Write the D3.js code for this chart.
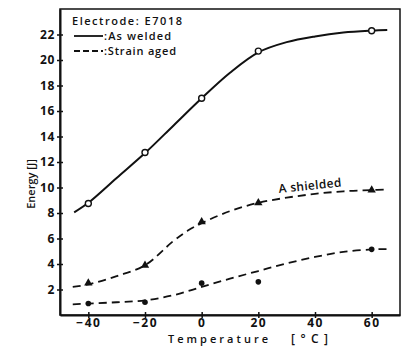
<!DOCTYPE html>
<html>
<head>
<meta charset="utf-8">
<script src="https://cdn.jsdelivr.net/npm/d3@7"></script>
<style>
  html, body { margin: 0; padding: 0; background: #fff; }
  svg { display: block; font-family: "Open Sans", "DejaVu Sans", sans-serif; }
</style>
</head>
<body>
<svg id="chart" width="411" height="347"></svg>
<script>
// Tick values
const xTicks = [-40, -20, 0, 20, 40, 60];
const yTicks = [2, 4, 6, 8, 10, 12, 14, 16, 18, 20, 22];

// Measured points (temperature °C, energy J)
const weldedPts = [[-40, 8.75], [-20, 12.75], [0, 17.0], [20, 20.7], [60, 22.3]];
const shieldedPts = [[-40, 2.5], [-20, 3.9], [0, 7.3], [20, 8.8], [60, 9.8]];
const agedPts = [[-40, 0.9], [-20, 1.0], [0, 2.5], [20, 2.6], [60, 5.15]];

// Fitted curves as drawn
const weldedCurve = [[-45, 8.05], [-40, 8.8], [-30, 10.75], [-20, 12.7], [-10, 14.85], [0, 17.0],
  [10, 19.0], [20, 20.6], [30, 21.4], [40, 21.85], [50, 22.15], [60, 22.3], [65.5, 22.35]];
const shieldedCurve = [[-45.5, 2.2], [-40, 2.4], [-30, 3.05], [-20, 3.9], [-10, 5.8], [-5, 6.6],
  [0, 7.2], [10, 8.15], [20, 8.8], [30, 9.2], [40, 9.5], [50, 9.7], [60, 9.8], [65.5, 9.85]];
const agedCurve = [[-45.5, 0.84], [-40, 0.9], [-30, 1.0], [-20, 1.15], [-10, 1.55], [0, 2.2],
  [10, 2.85], [20, 3.45], [30, 4.05], [40, 4.55], [50, 4.95], [60, 5.14], [65.8, 5.17]];

const width = 411, height = 347;
const margin = { top: 9, right: 11, bottom: 32, left: 60 };

const svg = d3.select("#chart");

const x = d3.scaleLinear().domain([-50, 70]).range([margin.left, width - margin.right]);
const y = d3.scaleLinear().domain([0, 24]).range([height - margin.bottom, margin.top]);

// Frame (top and right)
svg.append("rect")
  .attr("x", x(-50)).attr("y", y(24))
  .attr("width", x(70) - x(-50)).attr("height", y(0) - y(24))
  .attr("fill", "none").attr("stroke", "#111").attr("stroke-width", 1.5);

// Y axis
const yAxis = svg.append("g")
  .attr("transform", `translate(${x(-50)},0)`)
  .call(d3.axisLeft(y).tickValues(yTicks).tickSize(3).tickPadding(2).tickSizeOuter(0));
yAxis.select(".domain").attr("stroke", "#111").attr("stroke-width", 2);
yAxis.selectAll(".tick line").attr("x1", 3).attr("x2", -3).attr("stroke", "#111").attr("stroke-width", 1.5);
yAxis.selectAll(".tick text")
  .attr("font-size", 12).attr("font-weight", 700).attr("fill", "#111")
  .attr("letter-spacing", 0.6)
  .attr("font-family", "'Open Sans', sans-serif");

// X axis
const xAxis = svg.append("g")
  .attr("transform", `translate(0,${y(0)})`)
  .call(d3.axisBottom(x).tickValues(xTicks).tickSize(3).tickPadding(0).tickSizeOuter(0));
xAxis.select(".domain").attr("stroke", "#111").attr("stroke-width", 2);
xAxis.selectAll(".tick line").attr("y1", -3).attr("y2", 3).attr("stroke", "#111").attr("stroke-width", 1.5);
xAxis.selectAll(".tick text")
  .attr("font-size", 12).attr("font-weight", 700).attr("fill", "#111")
  .attr("letter-spacing", 1.5)
  .attr("font-family", "'Open Sans', sans-serif");

// Curves
const line = d3.line().x(d => x(d[0])).y(d => y(d[1])).curve(d3.curveCatmullRom);

svg.append("path").datum(weldedCurve).attr("d", line)
  .attr("fill", "none").attr("stroke", "#111").attr("stroke-width", 2);
svg.append("path").datum(shieldedCurve).attr("d", line)
  .attr("fill", "none").attr("stroke", "#111").attr("stroke-width", 1.8)
  .attr("stroke-dasharray", "8,5");
svg.append("path").datum(agedCurve).attr("d", line)
  .attr("fill", "none").attr("stroke", "#111").attr("stroke-width", 1.8)
  .attr("stroke-dasharray", "8,5");

// Markers
svg.append("g").selectAll("circle").data(weldedPts).join("circle")
  .attr("cx", d => x(d[0])).attr("cy", d => y(d[1])).attr("r", 3)
  .attr("fill", "#fff").attr("stroke", "#111").attr("stroke-width", 1.4);

const tri = d3.symbol().type(d3.symbolTriangle).size(30);
svg.append("g").selectAll("path").data(shieldedPts).join("path")
  .attr("d", tri)
  .attr("transform", d => `translate(${x(d[0])},${y(d[1])})`)
  .attr("fill", "#111");

svg.append("g").selectAll("circle").data(agedPts).join("circle")
  .attr("cx", d => x(d[0])).attr("cy", d => y(d[1])).attr("r", 2.8)
  .attr("fill", "#111");

// Legend
const leg = svg.append("g").attr("font-size", 11).attr("font-weight", 600).attr("fill", "#111");
leg.append("text").attr("x", 72).attr("y", 25)
  .attr("textLength", 110).attr("lengthAdjust", "spacing")
  .text("Electrode: E7018");
leg.append("line").attr("x1", 74).attr("x2", 103).attr("y1", 36).attr("y2", 36)
  .attr("stroke", "#111").attr("stroke-width", 1.8);
leg.append("text").attr("x", 104).attr("y", 40)
  .attr("textLength", 67).attr("lengthAdjust", "spacing")
  .text(":As welded");
leg.append("line").attr("x1", 74).attr("x2", 103).attr("y1", 51).attr("y2", 51)
  .attr("stroke", "#111").attr("stroke-width", 1.8).attr("stroke-dasharray", "6,3");
leg.append("text").attr("x", 104).attr("y", 55)
  .attr("textLength", 72).attr("lengthAdjust", "spacing")
  .text(":Strain aged");

// Annotation
svg.append("text")
  .attr("transform", "translate(279,193) rotate(-6)")
  .attr("font-size", 12).attr("font-weight", 600).attr("fill", "#111")
  .attr("textLength", 63).attr("lengthAdjust", "spacing")
  .text("A shielded");

// Axis titles
svg.append("text")
  .attr("transform", "translate(35,184) rotate(-90)")
  .attr("text-anchor", "middle")
  .attr("font-size", 11).attr("font-weight", 600).attr("fill", "#111")
  .text("Energy  [J]");

svg.append("text")
  .attr("x", 168).attr("y", 343)
  .attr("font-size", 11).attr("font-weight", 600).attr("fill", "#111")
  .attr("textLength", 100).attr("lengthAdjust", "spacing")
  .text("Temperature");
svg.append("text")
  .attr("x", 291).attr("y", 343)
  .attr("font-size", 12).attr("font-weight", 600).attr("fill", "#111")
  .attr("textLength", 37).attr("lengthAdjust", "spacing")
  .text("[°C]");
</script>
</body>
</html>
